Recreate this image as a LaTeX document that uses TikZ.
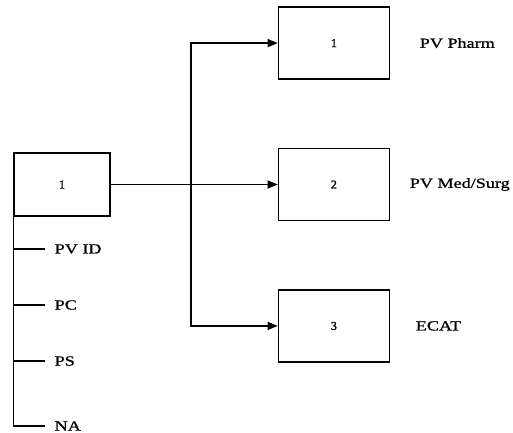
\documentclass[tikz,border=0pt]{standalone}
\usepackage{fontspec}
\setmainfont{Liberation Serif}
\newfontfamily\lblfont{Liberation Serif}[FakeStretch=1.3,FakeBold=1.0]
\newfontfamily\numfont{Liberation Serif}[FakeBold=1.2]
\usetikzlibrary{positioning,arrows.meta}
\tikzset{
  >={Triangle[length=10bp,width=8bp]},
  box/.style={draw,line width=1.4bp,minimum width=111bp,minimum height=72bp,
    inner sep=0pt,font=\numfont\fontsize{12}{14}\selectfont},
  lbl/.style={inner sep=0pt,anchor=west,font=\lblfont\fontsize{14}{16}\selectfont},
  conn/.style={line width=1.4bp},
}

\begin{document}
\begin{tikzpicture}[x=1bp,y=-1bp,conn]
\useasboundingbox (0,0) rectangle (513,433);

\node[box,minimum width=96bp,minimum height=63bp] (src) at (62,184.5) {1};
\node[box,right=167bp of src] (med) {2};
\node[box,above=68bp of med] (pharm) {1};
\node[box,below=68bp of med] (ecat) {3};

\node[lbl,right=29bp of pharm] (lpharm) {PV Pharm};
\node[lbl,right=19bp of med] (lmed) {PV Med/Surg};
\node[lbl,right=25bp of ecat] (lecat) {ECAT};

\coordinate (j) at (191,184.5);
\draw[->] (src.east) -- (med.west);
\draw[->] (j) |- (pharm.west);
\draw[->] (j) |- (ecat.west);

% sub items below the source box
\node[lbl] (pvid) at (54,249) {PV ID};
\node[lbl] (pc) at (54,305) {PC};
\node[lbl] (ps) at (54,361) {PS};
\node[lbl] (na) at (54,426) {NA};
\coordinate (bot) at (src.south west |- na);
\draw (src.south west) -- (bot) -- ([xshift=-9bp]na.west);
\foreach \n in {pvid,pc,ps}
  \draw (src.south west |- \n) -- ([xshift=-9bp]\n.west);
\end{tikzpicture}
\end{document}
